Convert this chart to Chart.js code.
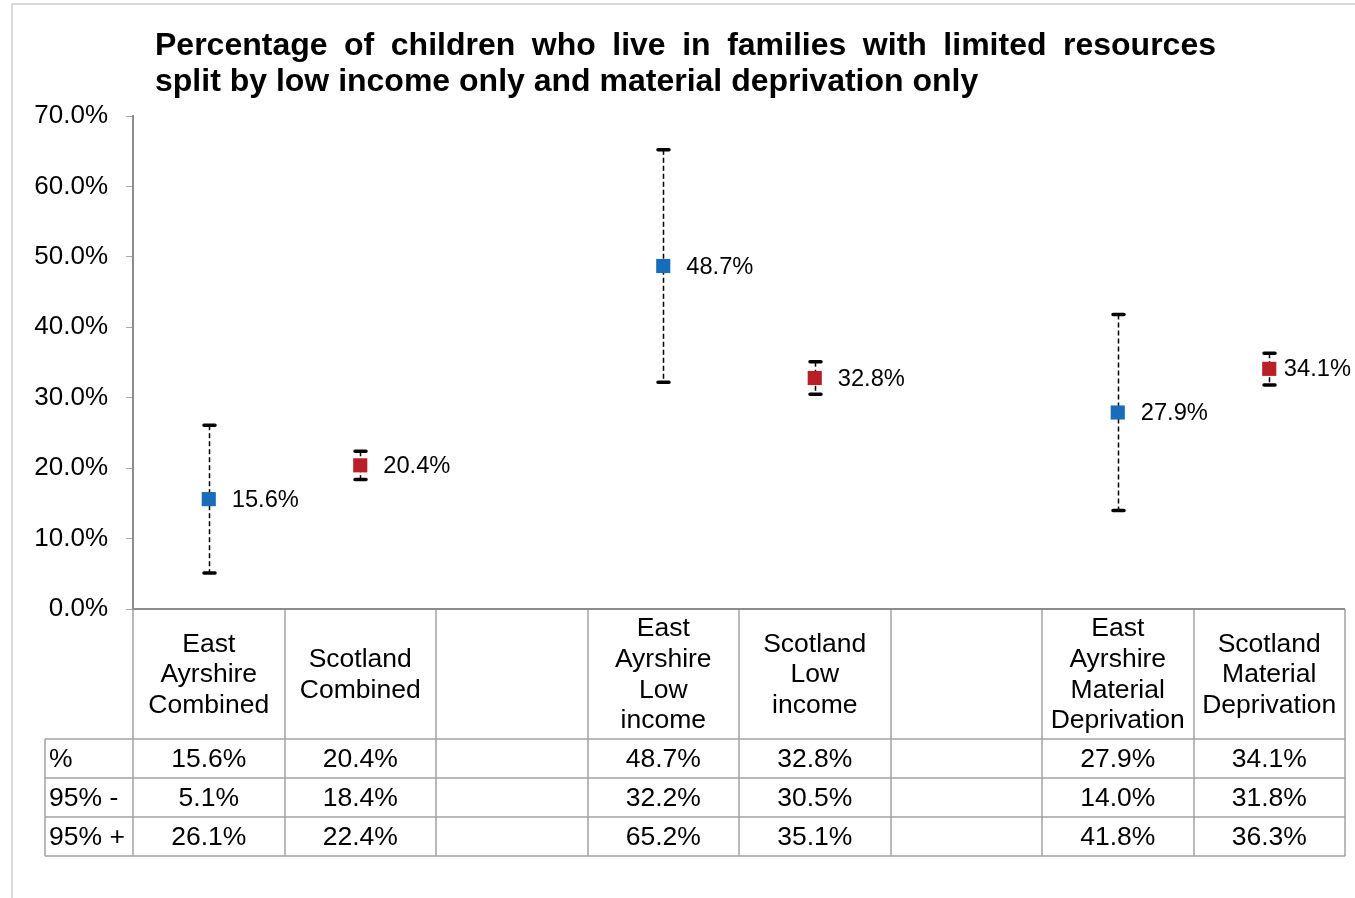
<!DOCTYPE html>
<html>
<head>
<meta charset="utf-8">
<script src="https://cdn.jsdelivr.net/npm/chart.js@4.4.0/dist/chart.umd.min.js"></script>
<style>
    html, body { margin: 0; padding: 0; background: #fff; }
</style>
</head>
<body>
<canvas id="chart_resources" width="1355" height="898"></canvas>
<script>
// Chart data
var titleLine1 = 'Percentage of children who live in families with limited resources';
var titleLine2 = 'split by low income only and material deprivation only';

var categories = [
    ['East', 'Ayrshire', 'Combined'],
    ['Scotland', 'Combined'],
    [''],
    ['East', 'Ayrshire', 'Low', 'income'],
    ['Scotland', 'Low', 'income'],
    [''],
    ['East', 'Ayrshire', 'Material', 'Deprivation'],
    ['Scotland', 'Material', 'Deprivation']
];
var eastAyrshire = [15.6, null, null, 48.7, null, null, 27.9, null];
var scotland = [null, 20.4, null, null, 32.8, null, null, 34.1];
var lower95 = [5.1, 18.4, null, 32.2, 30.5, null, 14.0, 31.8];
var upper95 = [26.1, 22.4, null, 65.2, 35.1, null, 41.8, 36.3];
var rowLabels = ['%', '95% -', '95% +'];
var yTicks = [0, 10, 20, 30, 40, 50, 60, 70];

var FONT = "'Liberation Sans', Arial, sans-serif";

function pct(v) {
    return v.toFixed(1) + '%';
}

// value shown in the table row "%"
function pointValue(i) {
    return eastAyrshire[i] !== null ? eastAyrshire[i] : scotland[i];
}

// Frame round the picture
var framePlugin = {
    id: 'frame',
    beforeDraw: function (chart) {
        var ctx = chart.ctx;
        ctx.save();
        ctx.fillStyle = '#fff';
        ctx.fillRect(0, 0, chart.width, chart.height);
        ctx.strokeStyle = '#D9D9D9';
        ctx.lineWidth = 2;
        ctx.beginPath();
        ctx.moveTo(12, chart.height);
        ctx.lineTo(12, 4);
        ctx.lineTo(chart.width, 4);
        ctx.stroke();
        ctx.restore();
    }
};

// Title, first line justified
var titlePlugin = {
    id: 'titleJustified',
    afterDraw: function (chart) {
        var ctx = chart.ctx;
        var left = 155, right = 1216;
        ctx.save();
        ctx.font = 'bold 32px ' + FONT;
        ctx.fillStyle = '#000';
        ctx.textBaseline = 'alphabetic';
        var words = titleLine1.split(' ');
        var total = 0;
        words.forEach(function (w) { total += ctx.measureText(w).width; });
        var gap = (right - left - total) / (words.length - 1);
        var x = left;
        words.forEach(function (w) {
            ctx.fillText(w, x, 55);
            x += ctx.measureText(w).width + gap;
        });
        ctx.fillText(titleLine2, left, 91);
        ctx.restore();
    }
};

// Dashed 95% interval lines
var errorBarPlugin = {
    id: 'errorBars',
    beforeDatasetsDraw: function (chart) {
        var ctx = chart.ctx;
        var xs = chart.scales.x, ys = chart.scales.y;
        ctx.save();
        ctx.strokeStyle = '#000';
        for (var i = 0; i < lower95.length; i++) {
            if (lower95[i] === null) continue;
            var x = Math.round(xs.getPixelForValue(i)) + 0.5;
            var yLo = ys.getPixelForValue(lower95[i]);
            var yHi = ys.getPixelForValue(upper95[i]);
            ctx.lineWidth = 1.5;
            ctx.setLineDash([5, 3]);
            ctx.beginPath();
            ctx.moveTo(x, yHi);
            ctx.lineTo(x, yLo);
            ctx.stroke();
            ctx.setLineDash([]);
            ctx.lineWidth = 3.5;
            ctx.lineCap = 'round';
            ctx.beginPath();
            ctx.moveTo(x - 5.5, yHi);
            ctx.lineTo(x + 5.5, yHi);
            ctx.moveTo(x - 5.5, yLo);
            ctx.lineTo(x + 5.5, yLo);
            ctx.stroke();
            ctx.lineCap = 'butt';
        }
        ctx.restore();
    }
};

// Value labels to the right of the points
var labelPlugin = {
    id: 'pointLabels',
    afterDatasetsDraw: function (chart) {
        var ctx = chart.ctx;
        var xs = chart.scales.x, ys = chart.scales.y;
        ctx.save();
        ctx.font = '23.7px ' + FONT;
        ctx.fillStyle = '#000';
        ctx.textBaseline = 'middle';
        for (var i = 0; i < categories.length; i++) {
            var v = pointValue(i);
            if (v === null) continue;
            var txt = pct(v);
            var w = ctx.measureText(txt).width;
            var x = xs.getPixelForValue(i) + 23;
            if (x + w > chart.width - 4) x = chart.width - 4 - w;
            ctx.fillText(txt, x, ys.getPixelForValue(v) + 1);
        }
        ctx.restore();
    }
};

// Data table under the plot
var tablePlugin = {
    id: 'dataTable',
    afterDraw: function (chart) {
        var ctx = chart.ctx;
        var area = chart.chartArea;
        var n = categories.length;
        var colW = (area.right - area.left) / n;
        var top = area.bottom;
        var headH = 130, rowH = 39;
        var tableLeft = 45;
        var rowsTop = top + headH;
        var bottom = rowsTop + rowH * rowLabels.length;

        ctx.save();
        ctx.strokeStyle = '#A3A3A3';
        ctx.lineWidth = 1.5;
        ctx.beginPath();
        for (var r = 0; r <= rowLabels.length; r++) {
            ctx.moveTo(tableLeft, rowsTop + r * rowH);
            ctx.lineTo(area.right, rowsTop + r * rowH);
        }
        ctx.moveTo(tableLeft, rowsTop);
        ctx.lineTo(tableLeft, bottom);
        for (var c = 0; c <= n; c++) {
            var cx = Math.round(area.left + c * colW);
            ctx.moveTo(cx, top);
            ctx.lineTo(cx, bottom);
        }
        ctx.stroke();
        ctx.strokeStyle = '#8C8C8C';
        ctx.lineWidth = 2;
        ctx.beginPath();
        ctx.moveTo(area.left, top);
        ctx.lineTo(area.right, top);
        ctx.stroke();

        ctx.fillStyle = '#000';
        ctx.font = '26.5px ' + FONT;
        ctx.textBaseline = 'middle';
        ctx.textAlign = 'center';
        var lineH = 30.7;
        for (var i = 0; i < n; i++) {
            var mid = area.left + (i + 0.5) * colW;
            var lines = categories[i];
            var y0 = top + headH / 2 - (lines.length - 1) * lineH / 2;
            lines.forEach(function (t, k) {
                ctx.fillText(t, mid, y0 + k * lineH + 1);
            });
            if (lower95[i] === null) continue;
            var rowVals = [pointValue(i), lower95[i], upper95[i]];
            rowVals.forEach(function (v, k) {
                ctx.fillText(pct(v), mid, rowsTop + (k + 0.5) * rowH + 1);
            });
        }
        ctx.textAlign = 'left';
        rowLabels.forEach(function (t, k) {
            ctx.fillText(t, tableLeft + 4, rowsTop + (k + 0.5) * rowH + 1);
        });
        ctx.restore();
    }
};

var config_resources = {
    type: 'line',
    data: {
        labels: categories,
        datasets: [{
            label: 'East Ayrshire',
            data: eastAyrshire,
            showLine: false,
            pointStyle: 'rect',
            pointRadius: 10,
            pointHoverRadius: 10,
            pointBorderWidth: 0,
            backgroundColor: '#186CB8',
            borderColor: '#186CB8'
        }, {
            label: 'Scotland',
            data: scotland,
            showLine: false,
            pointStyle: 'rect',
            pointRadius: 10,
            pointHoverRadius: 10,
            pointBorderWidth: 0,
            backgroundColor: '#B81F26',
            borderColor: '#B81F26'
        }]
    },
    options: {
        responsive: false,
        animation: false,
        layout: {
            padding: { top: 116, right: 9, left: 0, bottom: 0 }
        },
        plugins: {
            legend: { display: false },
            title: { display: false },
            tooltip: { enabled: false }
        },
        scales: {
            x: {
                offset: true,
                grid: { display: false },
                border: { display: false },
                ticks: { display: false },
                afterFit: function (scale) { scale.height = 289; }
            },
            y: {
                min: 0,
                max: 70,
                afterBuildTicks: function (axis) {
                    axis.ticks = yTicks.map(function (v) { return { value: v }; });
                },
                ticks: {
                    color: '#000',
                    padding: 18,
                    font: { family: FONT, size: 26 },
                    callback: function (v) { return pct(v); }
                },
                grid: {
                    drawOnChartArea: false,
                    drawTicks: true,
                    tickLength: 7,
                    color: '#A6A6A6'
                },
                border: { color: '#8C8C8C', width: 2 },
                afterFit: function (scale) { scale.width = 133; }
            }
        }
    },
    plugins: [framePlugin, errorBarPlugin, labelPlugin, tablePlugin, titlePlugin]
};

var canvas_resources = document.getElementById('chart_resources');
var chart_resources = new Chart(canvas_resources, config_resources);
</script>
</body>
</html>
